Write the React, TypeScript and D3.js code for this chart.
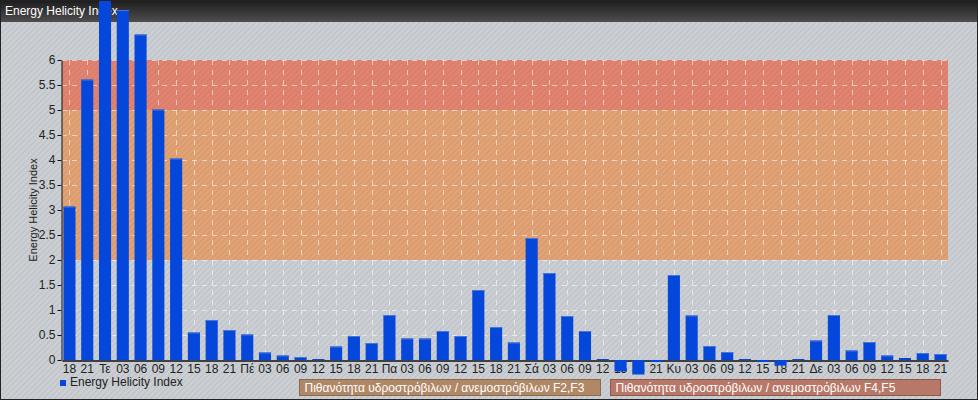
import React, { useEffect, useRef } from 'react';
import * as d3 from 'd3';

// x-axis labels (3-hourly, day names at 00)
const categories = [
  '18', '21',
  'Τε', '03', '06', '09', '12', '15', '18', '21',
  'Πέ', '03', '06', '09', '12', '15', '18', '21',
  'Πα', '03', '06', '09', '12', '15', '18', '21',
  'Σά', '03', '06', '09', '12', '15', '18', '21',
  'Κυ', '03', '06', '09', '12', '15', '18', '21',
  'Δε', '03', '06', '09', '12', '15', '18', '21',
];

const ehiValues = [
  3.07, 5.61,
  7.4, 7.0, 6.51, 5.01, 4.03, 0.55, 0.8, 0.6,
  0.51, 0.15, 0.09, 0.06, 0.02, 0.27, 0.48, 0.34,
  0.9, 0.43, 0.43, 0.58, 0.48, 1.4, 0.66, 0.35,
  2.44, 1.74, 0.88, 0.58, 0.02, -0.23, -0.29, -0.04,
  1.7, 0.89, 0.28, 0.16, 0.02, -0.04, -0.11, 0.02,
  0.39, 0.9, 0.19, 0.36, 0.09, 0.04, 0.14, 0.12,
];

const yTicks = [0, 0.5, 1, 1.5, 2, 2.5, 3, 3.5, 4, 4.5, 5, 5.5, 6];

const bands = [
  { from: 2, to: 5, color: '#e2a274', label: 'Πιθανότητα υδροστρόβιλων / ανεμοστρόβιλων F2,F3', legendColor: '#b08866' },
  { from: 5, to: 6, color: '#e2836f', label: 'Πιθανότητα υδροστρόβιλων / ανεμοστρόβιλων F4,F5', legendColor: '#b87868' },
];

export default function App() {
  const svgRef = useRef<SVGSVGElement>(null);

  useEffect(() => {
    if (!svgRef.current) return;
    const svg = d3.select(svgRef.current);
    svg.selectAll('*').remove();

    const width = 978;
    const height = 400;
    const margin = { top: 60, right: 30, bottom: 40, left: 62 };
    const font = '"Liberation Sans", Arial, sans-serif';

    const x = d3.scaleBand<number>()
      .domain(d3.range(categories.length))
      .range([margin.left, width - margin.right])
      .paddingInner(0.32)
      .paddingOuter(0.08);

    const y = d3.scaleLinear()
      .domain([0, 6])
      .range([height - margin.bottom, margin.top]);

    // hatch pattern
    const defs = svg.append('defs');
    const pat = defs.append('pattern')
      .attr('id', 'hatch')
      .attr('width', 4)
      .attr('height', 4)
      .attr('patternUnits', 'userSpaceOnUse')
      .attr('patternTransform', 'rotate(45)');
    pat.append('line')
      .attr('x1', 0).attr('y1', 0).attr('x2', 0).attr('y2', 4)
      .attr('stroke', 'rgba(60,70,80,0.13)')
      .attr('stroke-width', 1.6);

    const grad = defs.append('linearGradient')
      .attr('id', 'titlebar')
      .attr('x1', 0).attr('y1', 0).attr('x2', 0).attr('y2', 1);
    grad.append('stop').attr('offset', '0%').attr('stop-color', '#1c1c1c');
    grad.append('stop').attr('offset', '100%').attr('stop-color', '#4e4e4e');

    // background
    svg.append('rect')
      .attr('width', width).attr('height', height)
      .attr('fill', '#cbcfd4');

    // plot bands
    svg.append('g').selectAll('rect')
      .data(bands)
      .join('rect')
      .attr('x', margin.left)
      .attr('width', width - margin.right - margin.left)
      .attr('y', d => y(d.to))
      .attr('height', d => y(d.from) - y(d.to))
      .attr('fill', d => d.color);

    svg.append('rect')
      .attr('width', width).attr('height', height)
      .attr('fill', 'url(#hatch)');

    // grid
    const grid = svg.append('g')
      .attr('stroke', 'rgba(255,255,255,0.55)')
      .attr('stroke-dasharray', '5,5');
    grid.selectAll('line.h')
      .data(yTicks.slice(1))
      .join('line')
      .attr('class', 'h')
      .attr('x1', margin.left)
      .attr('x2', width - margin.right)
      .attr('y1', d => y(d) + 0.5)
      .attr('y2', d => y(d) + 0.5);
    grid.selectAll('line.v')
      .data(d3.range(categories.length))
      .join('line')
      .attr('class', 'v')
      .attr('x1', d => Math.round(x(d)! + x.bandwidth() / 2) + 0.5)
      .attr('x2', d => Math.round(x(d)! + x.bandwidth() / 2) + 0.5)
      .attr('y1', y(6))
      .attr('y2', y(0));

    // title bar
    svg.append('rect')
      .attr('width', width).attr('height', 22)
      .attr('fill', 'url(#titlebar)');
    svg.append('text')
      .attr('x', 5).attr('y', 15)
      .attr('fill', '#ffffff')
      .attr('font-family', font)
      .attr('font-size', 12)
      .text('Energy Helicity Index');

    // y axis
    const yAxis = svg.append('g')
      .attr('transform', `translate(${margin.left - 0.5},0)`)
      .call(d3.axisLeft(y).tickValues(yTicks).tickSize(4).tickSizeOuter(0).tickFormat(d3.format('')));
    yAxis.select('.domain').attr('stroke', '#111');
    yAxis.selectAll('.tick line').attr('stroke', '#111');
    yAxis.selectAll('.tick text')
      .attr('fill', '#222')
      .attr('font-family', font)
      .attr('font-size', 12)
      .attr('x', -6);

    svg.append('text')
      .attr('transform', `translate(37,${(y(0) + y(6)) / 2}) rotate(-90)`)
      .attr('text-anchor', 'middle')
      .attr('fill', '#222')
      .attr('font-family', font)
      .attr('font-size', 11)
      .text('Energy Helicity Index');

    // x axis
    const xAxis = svg.append('g')
      .attr('transform', `translate(0,${y(0) + 0.5})`)
      .call(d3.axisBottom(x).tickSize(0).tickSizeOuter(0).tickFormat(i => categories[i as number]));
    xAxis.select('.domain').attr('stroke', '#111').attr('stroke-width', 1.5);
    xAxis.selectAll('.tick text')
      .attr('fill', '#222')
      .attr('font-family', font)
      .attr('font-size', 12)
      .attr('dy', '0.71em')
      .attr('y', 4);

    // bars
    const barData = ehiValues.map((v, i) => ({ v, i }));
    const bars = svg.append('g').selectAll('g')
      .data(barData)
      .join('g');
    bars.append('rect')
      .attr('x', d => x(d.i)!)
      .attr('width', x.bandwidth())
      .attr('y', d => y(Math.max(0, d.v)))
      .attr('height', d => Math.abs(y(d.v) - y(0)))
      .attr('fill', '#0547da');
    bars.filter(d => d.v > 0.05).append('line')
      .attr('x1', d => x(d.i)!)
      .attr('x2', d => x(d.i)! + x.bandwidth())
      .attr('y1', d => y(d.v) + 0.5)
      .attr('y2', d => y(d.v) + 0.5)
      .attr('stroke', '#4a74d6');

    // legend
    svg.append('rect')
      .attr('x', 60).attr('y', 380)
      .attr('width', 6).attr('height', 6)
      .attr('fill', '#0547da');
    svg.append('text')
      .attr('x', 70).attr('y', 386)
      .attr('fill', '#222')
      .attr('font-family', font)
      .attr('font-size', 12)
      .text('Energy Helicity Index');

    const legendBoxes = [
      { x: 299.5, w: 301 },
      { x: 610.5, w: 330 },
    ];
    bands.forEach((b, i) => {
      svg.append('rect')
        .attr('x', legendBoxes[i].x).attr('y', 379.5)
        .attr('width', legendBoxes[i].w).attr('height', 16)
        .attr('fill', b.legendColor)
        .attr('stroke', i === 0 ? '#8a6a50' : '#8c5a4c');
      svg.append('text')
        .attr('x', legendBoxes[i].x + 5).attr('y', 392)
        .attr('fill', '#ffffff')
        .attr('font-family', font)
        .attr('font-size', 12)
        .text(b.label);
    });

    // frame
    svg.append('rect')
      .attr('x', 0.5).attr('y', 0.5)
      .attr('width', width - 1).attr('height', height - 1)
      .attr('fill', 'none')
      .attr('stroke', '#222');
  }, []);

  return (
    <>
      <style>{'body{margin:0}'}</style>
      <svg ref={svgRef} width={978} height={400} style={{ display: 'block' }} />
    </>
  );
}
